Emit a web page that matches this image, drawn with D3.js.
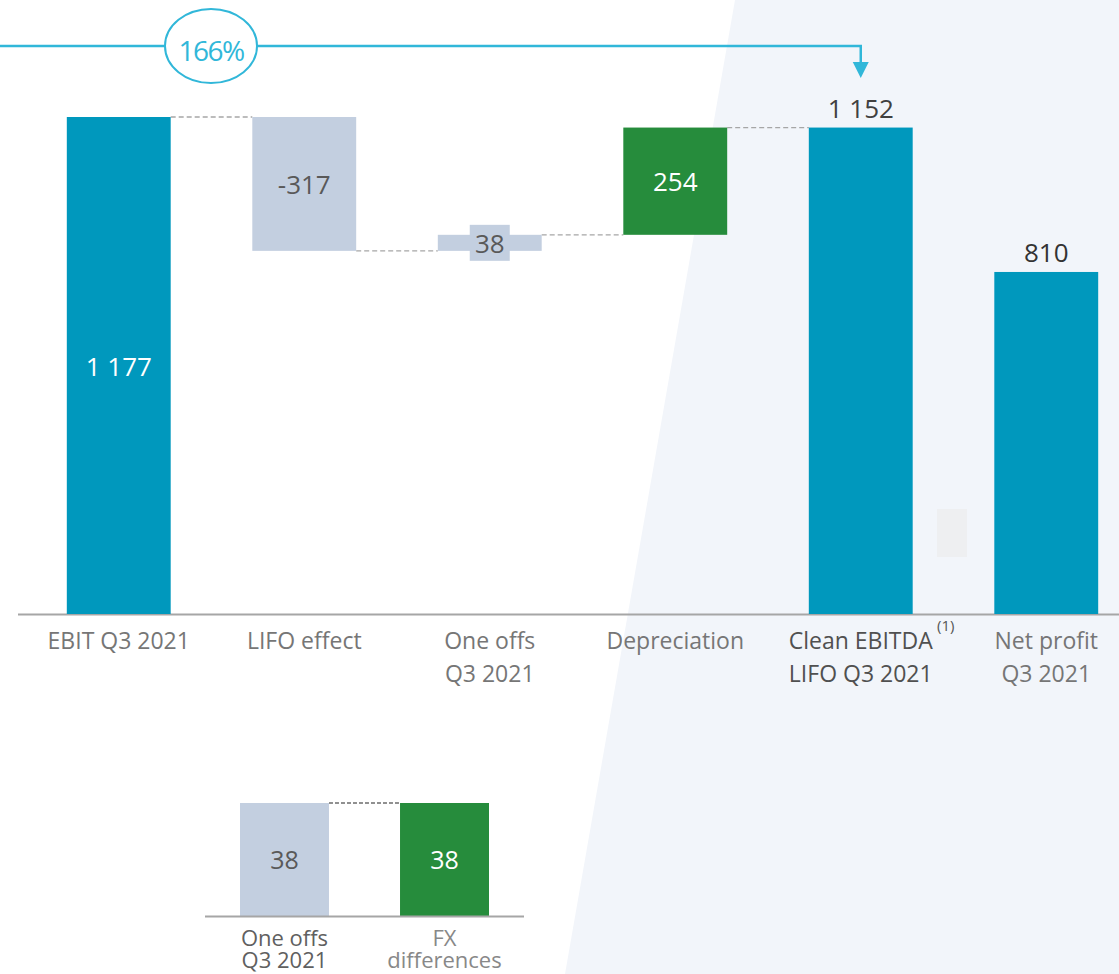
<!DOCTYPE html>
<html><head><meta charset="utf-8">
<script src="https://cdn.jsdelivr.net/npm/d3@7"></script>
<style>
html,body{margin:0;padding:0;background:#fff;}
svg{display:block;font-family:"Open Sans","Noto Sans",sans-serif;}
</style></head>
<body>
<script>
// ---- data ----
const categories = ["EBIT Q3 2021","LIFO effect","One offs Q3 2021","Depreciation","Clean EBITDA LIFO Q3 2021","Net profit Q3 2021"];
const labelLines = [["EBIT Q3 2021"],["LIFO effect"],["One offs","Q3 2021"],["Depreciation"],["Clean EBITDA","LIFO Q3 2021"],["Net profit","Q3 2021"]];
const values = [1177, -317, 38, 254, 1152, 810];
const kinds = ["total","neg","pos-light","pos","total","total"];
const valueLabels = ["1 177","-317","38","254","1 152","810"];
const growthLabel = "166%";
const subCategories = ["One offs Q3 2021","FX differences"];
const subLabelLines = [["One offs","Q3 2021"],["FX","differences"]];
const subValues = [38, 38];

const W = 1119, H = 974;
const svg = d3.select("body").append("svg").attr("width", W).attr("height", H);

// background panel
svg.append("polygon").attr("points", `735,0 ${W},0 ${W},${H} 565,${H}`).attr("fill", "#f2f5fa");

const colTeal = "#0098bd", colLight = "#c3cfe0", colGreen = "#268c3c", colDash = "#a6a6a6";

const x = d3.scaleBand().domain(categories).range([26, 1139]).paddingInner(0.44).paddingOuter(0.22);
const y = d3.scaleLinear().domain([0, 1177]).range([614, 117]);

// compute waterfall segments
let run = 0;
const segs = categories.map((c, i) => {
  const v = values[i];
  let y0, y1;
  if (kinds[i] === "total") { y0 = 0; y1 = v; run = v; }
  else { y0 = run; y1 = run + v; run = y1; }
  return {c, i, v, lo: Math.min(y0, y1), hi: Math.max(y0, y1), end: y1, kind: kinds[i]};
});

// connectors
const connPairs = [[0,1,segs[0].end],[1,2,segs[1].end],[2,3,segs[2].end],[3,4,segs[3].end]];
connPairs.forEach(([a,b,val]) => {
  svg.append("line")
    .attr("x1", x(categories[a]) + x.bandwidth()).attr("x2", x(categories[b]))
    .attr("y1", y(val)).attr("y2", y(val))
    .attr("stroke", colDash).attr("stroke-width", 1.3).attr("stroke-dasharray", "5,3");
});

// axis line
svg.append("line").attr("x1", 18).attr("x2", W).attr("y1", 614.5).attr("y2", 614.5)
  .attr("stroke", "#a6a6a6").attr("stroke-width", 2);

// bars
svg.selectAll("rect.bar").data(segs).enter().append("rect")
  .attr("x", d => x(d.c)).attr("width", x.bandwidth())
  .attr("y", d => y(d.hi)).attr("height", d => y(d.lo) - y(d.hi))
  .attr("fill", d => d.kind === "total" ? colTeal : d.kind === "pos" ? colGreen : colLight);

// small placeholder rect
svg.append("rect").attr("x", 937).attr("y", 509).attr("width", 30).attr("height", 48).attr("fill", "#eeeff1");

// value labels
const vfs = 26;
segs.forEach(d => {
  const cx = x(d.c) + x.bandwidth() / 2;
  const my = (y(d.lo) + y(d.hi)) / 2;
  if (d.i === 0) {
    svg.append("text").attr("x", cx).attr("y", my + 10).attr("text-anchor", "middle")
      .attr("font-size", vfs).attr("fill", "#fff").text(valueLabels[d.i]);
  } else if (d.i === 1) {
    svg.append("text").attr("x", cx).attr("y", my + 10).attr("text-anchor", "middle")
      .attr("font-size", vfs).attr("fill", "#595959").text(valueLabels[d.i]);
  } else if (d.i === 2) {
    svg.append("rect").attr("x", cx - 20).attr("y", my - 18).attr("width", 40).attr("height", 36).attr("fill", colLight);
    svg.append("text").attr("x", cx).attr("y", my + 10).attr("text-anchor", "middle")
      .attr("font-size", vfs).attr("fill", "#595959").text(valueLabels[d.i]);
  } else if (d.i === 3) {
    svg.append("text").attr("x", cx).attr("y", my + 10).attr("text-anchor", "middle")
      .attr("font-size", vfs).attr("fill", "#fff").text(valueLabels[d.i]);
  } else {
    svg.append("text").attr("x", cx).attr("y", y(d.hi) - 10).attr("text-anchor", "middle")
      .attr("font-size", vfs).attr("fill", d.i === 5 ? "#333" : "#404040").text(valueLabels[d.i]);
  }
});

// category labels
labelLines.forEach((lines, i) => {
  const cx = x(categories[i]) + x.bandwidth() / 2;
  const bold = i === 4;
  const t = svg.append("text").attr("text-anchor", "middle").attr("font-size", 23)
    .attr("fill", bold ? "#505050" : "#767676").attr("font-weight", bold ? 500 : 400);
  lines.forEach((ln, k) => {
    t.append("tspan").attr("x", cx).attr("y", 649 + k * 33).text(ln);
  });
  if (bold) {
    svg.append("text").attr("x", cx + 85).attr("y", 631).attr("text-anchor", "middle")
      .attr("font-size", 15).attr("fill", "#555").text("(1)");
  }
});

// growth arrow
const arrowX = x(categories[4]) + x.bandwidth() / 2;
svg.append("path").attr("d", `M0,46 H${arrowX} V64`).attr("fill", "none").attr("stroke", "#31b7d9").attr("stroke-width", 2.5);
svg.append("path").attr("d", `M${arrowX - 8},62 L${arrowX + 8},62 L${arrowX},78 Z`).attr("fill", "#31b7d9");
svg.append("ellipse").attr("cx", 211).attr("cy", 46).attr("rx", 46).attr("ry", 37)
  .attr("fill", "#fff").attr("stroke", "#31b7d9").attr("stroke-width", 2);
svg.append("text").attr("x", 211).attr("y", 61).attr("text-anchor", "middle")
  .attr("font-size", 28).attr("fill", "#31b7d9").attr("letter-spacing", -1.5).text(growthLabel);

// ---- sub chart ----
const xs = d3.scaleBand().domain(subCategories).range([208, 521]).paddingInner(0.444).paddingOuter(0.2);
const ys = d3.scaleLinear().domain([0, 38]).range([916, 803]);
svg.append("line").attr("x1", xs(subCategories[0]) + xs.bandwidth()).attr("x2", xs(subCategories[1]))
  .attr("y1", ys(38)).attr("y2", ys(38)).attr("stroke", "#222").attr("stroke-width", 1.2).attr("stroke-dasharray", "4,2");
svg.selectAll("rect.sub").data(subValues).enter().append("rect")
  .attr("x", (d, i) => xs(subCategories[i])).attr("width", xs.bandwidth())
  .attr("y", d => ys(d)).attr("height", d => ys(0) - ys(d))
  .attr("fill", (d, i) => i === 0 ? colLight : colGreen);
svg.append("line").attr("x1", 205).attr("x2", 524).attr("y1", 916.5).attr("y2", 916.5).attr("stroke", "#a6a6a6").attr("stroke-width", 2);
subValues.forEach((v, i) => {
  const cx = xs(subCategories[i]) + xs.bandwidth() / 2;
  svg.append("text").attr("x", cx).attr("y", (ys(v) + ys(0)) / 2 + 9).attr("text-anchor", "middle")
    .attr("font-size", 25).attr("fill", i === 0 ? "#595959" : "#fff").text(v);
  const t = svg.append("text").attr("text-anchor", "middle").attr("font-size", 22)
    .attr("fill", i === 0 ? "#606060" : "#888").attr("font-weight", i === 0 ? 500 : 400);
  subLabelLines[i].forEach((ln, k) => t.append("tspan").attr("x", cx).attr("y", 946 + k * 22).text(ln));
});
</script>
</body></html>
